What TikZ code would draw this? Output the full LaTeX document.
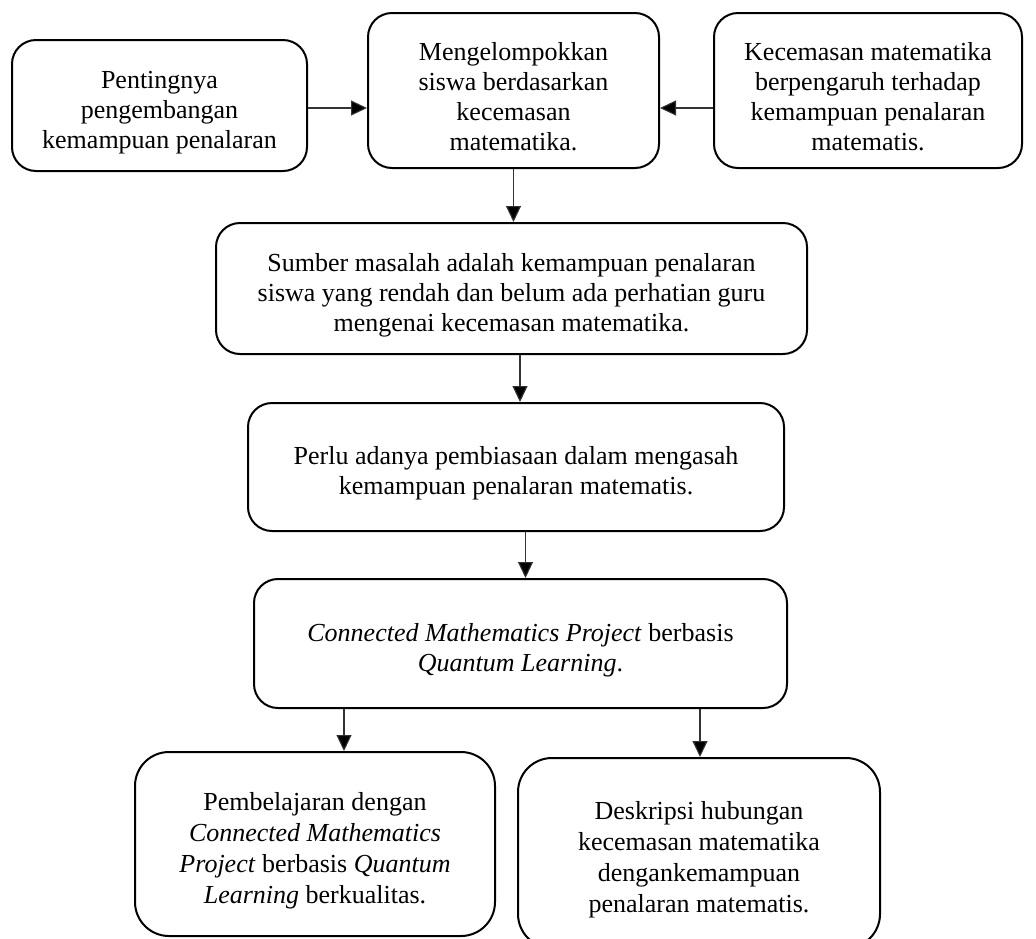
\documentclass[tikz,border=0pt]{standalone}
\usepackage{fontspec}
\setmainfont{Liberation Serif}
\usetikzlibrary{arrows.meta,calc}
\newcommand{\tp}{\rule{0pt}{31pt}}
\begin{document}
\begin{tikzpicture}[x=1pt,y=-1pt,
  box/.style={draw=black, line width=2pt, rounded corners=24pt, align=center,
    inner sep=0pt, font=\fontsize{26}{30}\selectfont},
  bigbox/.style={box, rounded corners=34pt, font=\fontsize{26}{31}\selectfont},
  arr/.style={draw=black!80, line width=1.1pt, -{Triangle[length=16pt,width=15pt,fill=black]}}]
\useasboundingbox (0,0) rectangle (1036,938);
\clip (0,0) rectangle (1036,938);
\node[box, minimum width=295pt, minimum height=131pt] (b1) at (159.5,105.5)
  {\tp Pentingnya\\pengembangan\\kemampuan penalaran};
\node[box, minimum width=291pt, minimum height=155pt] (b2) at (513.5,90.5)
  {\tp Mengelompokkan\\siswa berdasarkan\\kecemasan\\matematika.};
\node[box, minimum width=308pt, minimum height=155pt] (b3) at (868,90.5)
  {\tp Kecemasan matematika\\berpengaruh terhadap\\kemampuan penalaran\\matematis.};
\node[box, minimum width=591pt, minimum height=131pt] (b4) at (511.5,288.5)
  {\tp Sumber masalah adalah kemampuan penalaran\\siswa yang rendah dan belum ada perhatian guru\\mengenai kecemasan matematika.};
\node[box, minimum width=536pt, minimum height=128pt] (b5) at (516,467)
  {\tp Perlu adanya pembiasaan dalam mengasah\\kemampuan penalaran matematis.};
\node[box, minimum width=533pt, minimum height=129pt] (b6) at (520.5,643.5)
  {\tp\textit{Connected Mathematics Project} berbasis\\\textit{Quantum Learning}.};
\node[bigbox, minimum width=360pt, minimum height=184pt] (b7) at (315,844)
  {\tp Pembelajaran dengan\\\textit{Connected Mathematics}\\\textit{Project} berbasis \textit{Quantum}\\\textit{Learning} berkualitas.};
\node[bigbox, minimum width=362pt, minimum height=190pt] (b8) at (699,853)
  {\tp Deskripsi hubungan\\kecemasan matematika\\dengankemampuan\\penalaran matematis.};
\draw[arr] (b1.east) ++(0,2.5) coordinate (a1) -- (a1 -| b2.west);
\draw[arr] (b3.west |- a1) -- (b2.east |- a1);
\draw[arr] (b2.south) -- (b2.south |- b4.north);
\draw[arr] (b4.south -| b5.north) ++(4,0) coordinate (a4) -- (a4 |- b5.north);
\draw[arr] (b6.north |- b5.south) ++(5,0) coordinate (a5) -- (a5 |- b6.north);
\coordinate (s7) at ($(b6.south west)+(91,0)$);
\coordinate (s8) at ($(b6.south west)+(447,0)$);
\draw[arr] (s7) -- (s7 |- b7.north);
\draw[arr] (s8) -- (s8 |- b8.north);
\end{tikzpicture}
\end{document}
